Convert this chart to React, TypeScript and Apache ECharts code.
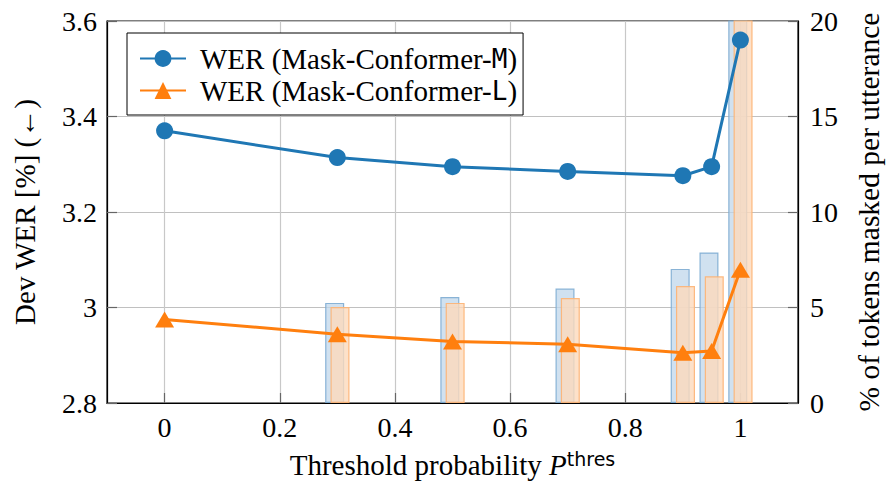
import { useEffect, useRef } from 'react';
import * as echarts from 'echarts';

// Threshold probabilities on the x axis
const thresholds = [0, 0.3, 0.5, 0.7, 0.9, 0.95, 1];
// Dev WER [%] per threshold (left axis)
const werM = [3.37, 3.314, 3.295, 3.285, 3.276, 3.295, 3.56];
const werL = [2.975, 2.944, 2.929, 2.923, 2.905, 2.909, 3.079];
// % of tokens masked per utterance (right axis); the last pair runs past the top
const maskedM = [0, 5.24, 5.55, 5.99, 7.02, 7.88, 23.5];
const maskedL = [0, 5.03, 5.24, 5.5, 6.12, 6.63, 24.5];

const nameM = 'WER (Mask-Conformer-M)';
const nameL = 'WER (Mask-Conformer-L)';

const BLUE = '#1f77b4';
const ORANGE = '#ff7f0e';
const SERIF = 'Liberation Serif';
const MONO = 'DejaVu Sans Mono';
const SANS = 'DejaVu Sans';

const pairs = (ys: number[]) => thresholds.map((x, i) => [x, ys[i]]);
const barPairs = (ys: number[]) => thresholds.map((x, i) => [x, ys[i] > 0 ? ys[i] : null]);

// tick text wrapped in a rich token so the serif face is set on every label
const tickText = (v: number) => `{t|${+v.toFixed(2)}}`;
const tickRich = { t: { fontFamily: SERIF, fontSize: 28, color: '#000' } };

export default function App() {
  const ref = useRef<HTMLDivElement>(null);

  useEffect(() => {
    document.body.style.margin = '0';
    if (!ref.current) return;
    const chart = echarts.init(ref.current, undefined, { renderer: 'svg' });

    const nameFont = { fontFamily: SERIF, fontSize: 29, color: '#000' };
    const tick = { show: true, inside: true, length: 10, lineStyle: { color: '#666', width: 1.2 } };
    const line = { show: true, onZero: false, lineStyle: { color: '#000', width: 1.2 } };
    const label = (margin: number, extra = {}) => ({
      fontFamily: SERIF,
      fontSize: 28,
      color: '#000',
      margin,
      formatter: tickText,
      rich: tickRich,
      ...extra,
    });

    chart.setOption({
      animation: false,
      backgroundColor: '#fff',
      textStyle: { fontFamily: SERIF, color: '#000' },
      grid: {
        left: 107,
        right: 90,
        top: 21,
        bottom: 84,
        containLabel: false,
        outerBoundsMode: 'none',
        show: true,
        borderColor: '#000',
        borderWidth: 1.2,
        backgroundColor: 'transparent',
      },
      legend: {
        data: [nameM, nameL],
        orient: 'vertical',
        left: 127,
        top: 33,
        padding: [11, 6, 10, 12],
        itemGap: 3,
        itemWidth: 46,
        itemHeight: 21,
        backgroundColor: '#fff',
        borderColor: '#000',
        borderWidth: 1,
        formatter: (n: string) => n.replace(/-([ML])\)$/, '-{tt|$1})'),
        textStyle: {
          fontFamily: SERIF,
          fontSize: 29,
          color: '#000',
          lineHeight: 28,
          padding: [0, 0, 0, 9],
          rich: {
            tt: { fontFamily: MONO, fontSize: 26, lineHeight: 28, color: '#000' },
          },
        },
      },
      xAxis: {
        type: 'value',
        min: -0.1,
        max: 1.1,
        splitNumber: 6,
        name: 'Threshold probability {p|P}{s|thres}',
        nameLocation: 'middle',
        nameGap: 46,
        nameTextStyle: {
          ...nameFont,
          rich: {
            p: { fontFamily: SERIF, fontSize: 29, fontStyle: 'italic', color: '#000' },
            s: {
              fontFamily: SANS,
              fontSize: 19,
              color: '#000',
              padding: [0, 0, 12, 0],
            },
          },
        },
        axisLine: line,
        axisTick: tick,
        axisLabel: label(10, { showMinLabel: false, showMaxLabel: false }),
        splitLine: { show: true, lineStyle: { color: '#c8c8c8', width: 1.2 } },
      },
      yAxis: [
        {
          type: 'value',
          min: 2.8,
          max: 3.6,
          interval: 0.2,
          position: 'left',
          name: 'Dev WER [%] (←)',
          nameLocation: 'middle',
          nameGap: 68,
          nameTextStyle: nameFont,
          axisLine: line,
          axisTick: tick,
          axisLabel: label(10),
          splitLine: { show: true, lineStyle: { color: '#c0c0c0', width: 1.2 } },
        },
        {
          type: 'value',
          min: 0,
          max: 20,
          interval: 5,
          position: 'right',
          name: '% of tokens masked per utterance',
          nameLocation: 'middle',
          nameGap: 56,
          nameTextStyle: { ...nameFont, fontSize: 29.5 },
          axisLine: line,
          axisTick: tick,
          axisLabel: label(12),
          splitLine: { show: false },
        },
      ],
      series: [
        {
          name: 'masked-M',
          type: 'bar',
          yAxisIndex: 1,
          barWidth: 19,
          barGap: '-72%',
          clip: true,
          data: barPairs(maskedM),
          itemStyle: {
            color: 'rgba(192,215,235,0.75)',
            borderColor: 'rgba(120,168,208,0.85)',
            borderWidth: 1.2,
          },
        },
        {
          name: 'masked-L',
          type: 'bar',
          yAxisIndex: 1,
          barWidth: 19,
          barGap: '-72%',
          clip: true,
          data: barPairs(maskedL),
          itemStyle: {
            color: 'rgba(252,218,188,0.8)',
            borderColor: 'rgba(253,178,115,0.9)',
            borderWidth: 1.2,
          },
        },
        {
          name: nameM,
          type: 'line',
          yAxisIndex: 0,
          data: pairs(werM),
          symbol: 'circle',
          symbolSize: 17,
          lineStyle: { color: BLUE, width: 3 },
          itemStyle: { color: BLUE },
          z: 5,
        },
        {
          name: nameL,
          type: 'line',
          yAxisIndex: 0,
          data: pairs(werL),
          symbol: 'triangle',
          symbolSize: [19, 16],
          lineStyle: { color: ORANGE, width: 3 },
          itemStyle: { color: ORANGE },
          z: 5,
        },
      ],
    });

    return () => chart.dispose();
  }, []);

  return <div ref={ref} style={{ width: 888, height: 487 }} />;
}
